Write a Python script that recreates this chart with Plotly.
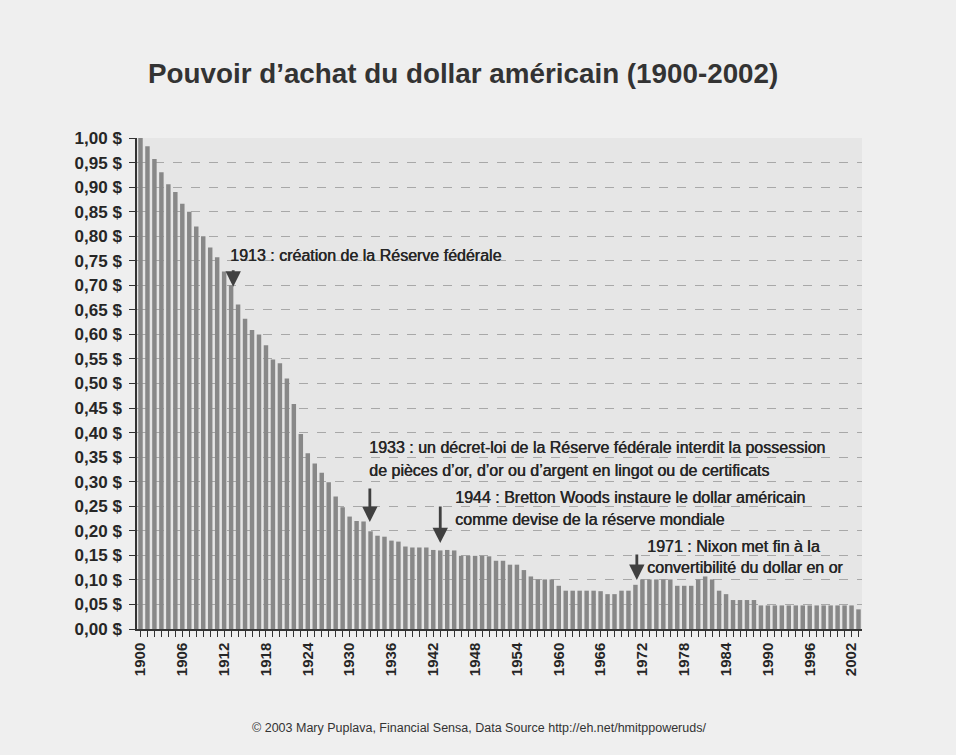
import plotly.graph_objects as go

# ---------------- data ----------------
years = list(range(1900, 2004))
purchasing_power = [
    1.000, 0.983, 0.957, 0.930, 0.906, 0.890, 0.866, 0.850, 0.820, 0.800,  # 1900-1909
    0.777, 0.757, 0.728, 0.700, 0.661, 0.632, 0.609, 0.600, 0.578, 0.549,  # 1910-1919
    0.541, 0.510, 0.458, 0.397, 0.358, 0.337, 0.318, 0.299, 0.270, 0.248,  # 1920-1929
    0.229, 0.220, 0.219, 0.199, 0.190, 0.188, 0.180, 0.178, 0.168, 0.166,  # 1930-1939
    0.166, 0.166, 0.161, 0.160, 0.161, 0.160, 0.149, 0.149, 0.149, 0.149,  # 1940-1949
    0.148, 0.139, 0.139, 0.131, 0.131, 0.120, 0.107, 0.101, 0.101, 0.101,  # 1950-1959
    0.088, 0.078, 0.078, 0.078, 0.078, 0.078, 0.077, 0.071, 0.071, 0.078,  # 1960-1969
    0.078, 0.090, 0.101, 0.101, 0.101, 0.101, 0.101, 0.088, 0.088, 0.088,  # 1970-1979
    0.101, 0.107, 0.101, 0.078, 0.071, 0.059, 0.059, 0.059, 0.059, 0.048,  # 1980-1989
    0.048, 0.048, 0.048, 0.048, 0.048, 0.048, 0.048, 0.048, 0.048, 0.048,  # 1990-1999
    0.048, 0.048, 0.048, 0.040,                                            # 2000-2003
]

y_tick_values = [i * 0.05 for i in range(21)]
y_tick_labels = ["0,00 $", "0,05 $", "0,10 $", "0,15 $", "0,20 $", "0,25 $", "0,30 $",
                 "0,35 $", "0,40 $", "0,45 $", "0,50 $", "0,55 $", "0,60 $", "0,65 $",
                 "0,70 $", "0,75 $", "0,80 $", "0,85 $", "0,90 $", "0,95 $", "1,00 $"]
x_label_years = list(range(1900, 2004, 6))

title_text = "Pouvoir d\u2019achat du dollar américain (1900-2002)"
caption_text = "© 2003 Mary Puplava, Financial Sensa, Data Source http://eh.net/hmitppoweruds/"

events = [
    # (arrow year, arrow tip value, arrow length px, text lines)
    (1913.3, 0.697, 18, ["1913 : création de la Réserve fédérale"]),
    (1932.9, 0.218, 35, ["1933 : un décret-loi de la Réserve fédérale interdit la possession",
                         "de pièces d\u2019or, d\u2019or ou d\u2019argent en lingot ou de certificats"]),
    (1943.0, 0.175, 38, ["1944 : Bretton Woods instaure le dollar américain",
                         "comme devise de la réserve mondiale"]),
    (1971.2, 0.100, 27, ["1971 : Nixon met fin à la",
                         "convertibilité du dollar en or"]),
]
# text anchor positions (page pixels, left / line centres)
event_text_pos = [
    (228, [255]),
    (367, [447, 470]),
    (453, [497, 519]),
    (645, [546, 567]),
]

# ---------------- layout geometry ----------------
W, H = 956, 755
L, R, T, B = 137, 862, 138, 629
PW, PH = R - L, B - T


def px_x(x):
    return (x - L) / PW


def px_y(y):
    return (B - y) / PH


FONT = "Liberation Sans, Arial, sans-serif"
TXT = "#262626"
THICK = "0.5px 0px 0px #262626"

fig = go.Figure()
fig.add_trace(go.Bar(
    x=years, y=purchasing_power,
    marker=dict(color="#888888", line=dict(width=0)),
    hoverinfo="x+y",
))

annotations = []
annotations.append(dict(
    text=title_text, xref="paper", yref="paper", x=px_x(463), y=px_y(73),
    xanchor="center", yanchor="middle", showarrow=False,
    font=dict(family=FONT, size=27.8, color="#333333", weight="bold"),
))
annotations.append(dict(
    text=caption_text, xref="paper", yref="paper", x=px_x(479), y=px_y(728),
    xanchor="center", yanchor="middle", showarrow=False,
    font=dict(family=FONT, size=12.5, color="#333333"),
))

for (ax_year, tip, length, lines), (tx, tys) in zip(events, event_text_pos):
    annotations.append(dict(
        x=ax_year, y=tip, xref="x", yref="y", text="", showarrow=True,
        ax=0, ay=-length, arrowhead=2, arrowsize=1.1, arrowwidth=2.8,
        arrowcolor="#404040", standoff=0, startstandoff=0,
    ))
    for line, ty in zip(lines, tys):
        annotations.append(dict(
            text=line, xref="paper", yref="paper", x=px_x(tx), y=px_y(ty),
            xanchor="left", yanchor="middle", showarrow=False,
            font=dict(family=FONT, size=16, color=TXT, shadow=THICK),
        ))

fig.update_layout(
    width=W, height=H,
    margin=dict(l=L, r=W - R, t=T, b=H - B, pad=0),
    paper_bgcolor="#efefef",
    plot_bgcolor="#e6e6e6",
    bargap=0.36,
    showlegend=False,
    annotations=annotations,
    font=dict(family=FONT, color=TXT),
    xaxis=dict(
        range=[1899.5, 2003.5],
        tickmode="array",
        tickvals=years,
        ticktext=[str(y) if y in x_label_years else "" for y in years],
        tickangle=-90,
        ticks="outside", ticklen=6, tickwidth=1.2, tickcolor="#333333",
        showline=True, linecolor="#333333", linewidth=1.5,
        showgrid=False, zeroline=False,
        tickfont=dict(family=FONT, size=15, color=TXT, weight="bold"),
    ),
    yaxis=dict(
        range=[0, 1.0],
        tickmode="array",
        tickvals=y_tick_values,
        ticktext=y_tick_labels,
        ticks="outside", ticklen=6, tickwidth=1.2, tickcolor="#333333",
        showline=True, linecolor="#333333", linewidth=1.5,
        showgrid=True, gridcolor="#a8a8a8", griddash="dash", gridwidth=1,
        zeroline=False,
        tickfont=dict(family=FONT, size=17, color=TXT, weight="bold"),
        ticklabelstandoff=4,
    ),
)

fig.write_html("out.html", config={"displayModeBar": False},
               post_script="document.body.style.margin='0';")
